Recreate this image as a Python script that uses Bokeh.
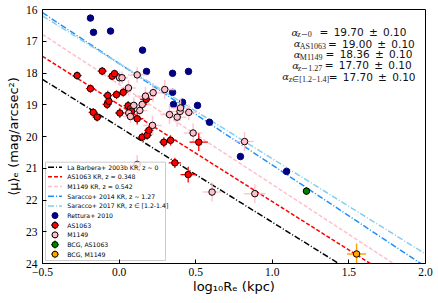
import numpy as np
from bokeh.plotting import figure
from bokeh.models import Range1d, FixedTicker
from bokeh.embed import file_html
from bokeh.resources import INLINE
from bokeh.core.properties import value

# ---------------- data ----------------
kr_labels = ["La Barbera+ 2003b KR, z ∼ 0", "AS1063 KR, z = 0.348", "M1149 KR, z = 0.542",
             "Saracco+ 2014 KR, z ∼ 1.27", "Saracco+ 2017 KR, z ∈ [1.2-1.4]"]
kr_alpha = [19.70, 19.00, 18.36, 17.70, 17.70]
kr_beta = [3.00, 3.05, 3.15, 3.20, 3.00]

rettura_logre = [-0.187, -0.167, -0.056, 0.153, 0.179, 0.349, 0.453, 0.349, 0.355, 0.414, 0.512, 0.590, 0.792, 1.093]
rettura_mu = [16.27, 16.72, 16.68, 17.28, 17.95, 18.01, 17.95, 18.61, 18.99, 18.92, 19.02, 19.55, 20.63, 21.10]

as1063_logre = [-0.274, -0.187, -0.110, -0.045, -0.030, -0.074, -0.017, -0.078, -0.067, 0.027, 0.005, -0.169, -0.143,
                0.059, 0.074, 0.081, 0.118, 0.177, 0.151, 0.183, 0.194, 0.292, 0.336, 0.520, 0.364, 0.451]
as1063_mu = [18.08, 18.49, 17.94, 18.10, 18.02, 18.71, 18.68, 18.99, 18.89, 18.61, 19.26, 19.24, 19.39,
             19.03, 19.12, 19.21, 19.44, 18.83, 20.02, 19.96, 19.81, 20.18, 20.12, 20.18, 20.83, 21.20]
as1063_xerr = [0.03, 0.03, 0.03, 0.03, 0.03, 0.03, 0.03, 0.03, 0.03, 0.03, 0.03, 0.03, 0.03,
               0.03, 0.03, 0.03, 0.04, 0.04, 0.03, 0.03, 0.03, 0.03, 0.04, 0.06, 0.04, 0.05]
as1063_yerr = [0.13, 0.13, 0.13, 0.13, 0.12, 0.15, 0.14, 0.14, 0.13, 0.14, 0.16, 0.14, 0.14,
               0.15, 0.15, 0.15, 0.18, 0.18, 0.14, 0.14, 0.14, 0.16, 0.16, 0.28, 0.16, 0.25]

m1149_logre = [0.118, 0.003, 0.019, 0.061, 0.172, 0.222, 0.298, 0.151, 0.135, 0.096, 0.063, 0.074,
               0.329, 0.379, 0.398, 0.401, 0.455, 0.218, 0.483, 0.819, 0.607, 0.886, 0.118]
m1149_mu = [18.06, 18.15, 18.15, 18.47, 18.73, 18.62, 18.52, 18.99, 19.18, 19.02, 19.26, 19.37,
            19.31, 19.39, 19.21, 19.10, 19.24, 19.65, 19.89, 20.16, 21.75, 21.80, 20.88]
m1149_xerr = [0.06, 0.04, 0.04, 0.05, 0.07, 0.06, 0.07, 0.05, 0.05, 0.05, 0.05, 0.05,
              0.06, 0.06, 0.06, 0.06, 0.05, 0.06, 0.06, 0.06, 0.06, 0.07, 0.06]
m1149_yerr = [0.25, 0.20, 0.20, 0.25, 0.30, 0.30, 0.30, 0.25, 0.25, 0.25, 0.20, 0.20,
              0.30, 0.30, 0.30, 0.30, 0.25, 0.30, 0.30, 0.30, 0.30, 0.30, 0.30]

bcg_as1063_logre = [1.223]
bcg_as1063_mu = [21.72]
bcg_as1063_xerr = [0.02]
bcg_as1063_yerr = [0.12]

bcg_m1149_logre = [1.55]
bcg_m1149_mu = [23.70]
bcg_m1149_xerr = [0.062]
bcg_m1149_yerr = [0.33]

x_ticks = [-0.5, 0.0, 0.5, 1.0, 1.5, 2.0]
x_tick_labels = ["−0.5", "0.0", "0.5", "1.0", "1.5", "2.0"]
y_ticks = [16, 17, 18, 19, 20, 21, 22, 23, 24]
y_tick_labels = ["16", "17", "18", "19", "20", "21", "22", "23", "24"]
x_title = "log₁₀Rₑ (kpc)"
y_title = "⟨μ⟩ₑ (mag/arcsec²)"

alpha_subs = ["z∼0", "AS1063", "M1149", "z∼1.27", "z∈[1.2−1.4]"]
alpha_vals = ["19.70", "19.00", "18.36", "17.70", "17.70"]
alpha_errs = ["0.10", "0.10", "0.10", "0.10", "0.10"]

point_labels = ["Rettura+ 2010", "AS1063", "M1149", "BCG, AS1063", "BCG, M1149"]

# ---------------- helpers (reference pixel -> data, for annotation placement) ----------------
FX0, FX1, FY0, FY1 = 42.0, 425.0, 9.0, 263.0
def px2x(X):
    return -0.5 + (X - FX0) / (FX1 - FX0) * 2.5
def px2y(Y):
    return 16.0 + (Y - FY0) / (FY1 - FY0) * 8.0

p = figure(frame_width=383, frame_height=254, x_range=Range1d(-0.5, 2.0), y_range=Range1d(24, 16),
           output_backend="svg", toolbar_location=None,
           min_border_left=42, min_border_right=11, min_border_top=9, min_border_bottom=37)
p.grid.visible = False
p.outline_line_color = "black"
p.outline_line_width = 1
p.outline_line_alpha = 1

for ax in (p.xaxis[0], p.yaxis[0]):
    ax.major_tick_in = 4
    ax.major_tick_out = 0
    ax.minor_tick_line_color = None
    ax.axis_line_color = "black"
    ax.major_tick_line_color = "black"
    ax.major_label_text_font = "Liberation Serif"
    ax.major_label_text_font_size = "11.5px"
    ax.major_label_text_color = "black"
    ax.axis_label_text_font = "DejaVu Sans"
    ax.axis_label_text_font_style = "normal"
    ax.axis_label_text_font_size = "13px"
    ax.axis_label_text_color = "black"

p.xaxis.ticker = FixedTicker(ticks=x_ticks)
p.xaxis.major_label_overrides = {t: l for t, l in zip(x_ticks, x_tick_labels)}
p.yaxis.ticker = FixedTicker(ticks=y_ticks)
p.yaxis.major_label_overrides = {t: l for t, l in zip(y_ticks, y_tick_labels)}
p.xaxis.major_label_standoff = 4
p.xaxis.axis_label_standoff = 0
p.yaxis.major_label_standoff = 5
p.yaxis.axis_label_standoff = 2
p.xaxis.axis_label = x_title
p.yaxis.axis_label = y_title

kr_colors = ["black", "red", "pink", "dodgerblue", "skyblue"]
kr_dashes = ["6 2 1 2", "4 2", "4 2", "6 2 1 2", "6 2 1 2"]

# KR lines
for a, b, c, d in zip(kr_alpha, kr_beta, kr_colors, kr_dashes):
    xs = [-0.5, 2.0]
    ys = [a + b * x for x in xs]
    p.line(xs, ys, line_color=c, line_width=1.5, line_dash=d)

# Rettura
p.scatter(rettura_logre, rettura_mu, size=6.5, fill_color="navy", line_color="navy")

def errbars(xv, yv, xe, ye, color, width, alpha=1.0):
    p.segment([x - e for x, e in zip(xv, xe)], yv, [x + e for x, e in zip(xv, xe)], yv,
              line_color=color, line_width=width, line_alpha=alpha)
    p.segment(xv, [y - e for y, e in zip(yv, ye)], xv, [y + e for y, e in zip(yv, ye)],
              line_color=color, line_width=width, line_alpha=alpha)

errbars(m1149_logre, m1149_mu, m1149_xerr, m1149_yerr, "pink", 1.5, 0.9)
errbars(as1063_logre, as1063_mu, as1063_xerr, as1063_yerr, "red", 1.3)
p.scatter(as1063_logre, as1063_mu, size=6.5, fill_color="red", line_color="black", line_width=1)
p.scatter(m1149_logre, m1149_mu, size=6.5, fill_color="pink", line_color="black", line_width=1)
errbars(bcg_as1063_logre, bcg_as1063_mu, bcg_as1063_xerr, bcg_as1063_yerr, "green", 1.5)
p.scatter(bcg_as1063_logre, bcg_as1063_mu, size=6.5, fill_color="green", line_color="black", line_width=1)
errbars(bcg_m1149_logre, bcg_m1149_mu, bcg_m1149_xerr, bcg_m1149_yerr, "orange", 1.5)
p.scatter(bcg_m1149_logre, bcg_m1149_mu, size=6.5, fill_color="orange", line_color="black", line_width=1)

# ---------------- annotation ----------------
ann_Y = [31.5, 43.0, 53.8, 64.8, 76.2]
ann_A = [291.0, 293.3, 293.3, 291.7, 281.7]
ann_S = [296.7, 299.3, 299.3, 297.3, 288.3]
ann_E = [313.3, 329.0, 324.3, 322.7, 330.0]
ann_R = [411.7, 412.7, 412.7, 412.7, 413.3]
sp = "\u2002"
for i in range(5):
    p.text([px2x(ann_A[i])], [px2y(ann_Y[i])], text=["α"], text_font=value("DejaVu Serif"),
           text_font_style="italic", text_font_size="10px", text_baseline="middle", text_align="left",
           text_color="#222222")
    p.text([px2x(ann_S[i])], [px2y(ann_Y[i] + 2.8)], text=[alpha_subs[i]], text_font=value("Liberation Serif"),
           text_font_size="8px", text_baseline="middle", text_align="left", text_color="#222222")
    eq = "=" + sp + alpha_vals[i] + sp + "±" + sp + alpha_errs[i]
    p.text([px2x(0.5 * (ann_E[i] + ann_R[i]))], [px2y(ann_Y[i])], text=[eq],
           text_font=value("DejaVu Sans"), text_font_size="10.5px", text_baseline="middle",
           text_align="center", text_color="#111111")

# ---------------- legend (drawn manually on top) ----------------
p.quad(left=[px2x(45)], right=[px2x(165)], top=[px2y(161.7)], bottom=[px2y(260)],
       fill_color="white", fill_alpha=0.8, line_color="#cccccc", line_width=1)
row_Y = [166.7 + 9.67 * i for i in range(10)]
gx0, gx1, gxm, tx = 47.5, 61.5, 54.5, 66.7
for i in range(5):
    p.line([px2x(gx0), px2x(gx1)], [px2y(row_Y[i])] * 2, line_color=kr_colors[i], line_width=1.5,
           line_dash=kr_dashes[i])
pt_fill = ["navy", "red", "pink", "green", "orange"]
pt_line = ["navy", "black", "black", "black", "black"]
pt_err = [None, "red", "pink", "green", "orange"]
for j in range(5):
    Y = row_Y[5 + j]
    if pt_err[j]:
        p.segment([px2x(gxm - 4)], [px2y(Y)], [px2x(gxm + 4)], [px2y(Y)], line_color=pt_err[j], line_width=1.3)
        p.segment([px2x(gxm)], [px2y(Y - 4)], [px2x(gxm)], [px2y(Y + 4)], line_color=pt_err[j], line_width=1.3)
    p.scatter([px2x(gxm)], [px2y(Y)], size=6, fill_color=pt_fill[j], line_color=pt_line[j], line_width=1)
leg_labels = kr_labels + point_labels
p.text([px2x(tx)] * 10, [px2y(Y) for Y in row_Y], text=leg_labels, text_font=value("DejaVu Sans"),
       text_font_size="6.2px", text_baseline="middle", text_align="left", text_color="black")

open("out.html", "w").write(file_html(p, INLINE))
